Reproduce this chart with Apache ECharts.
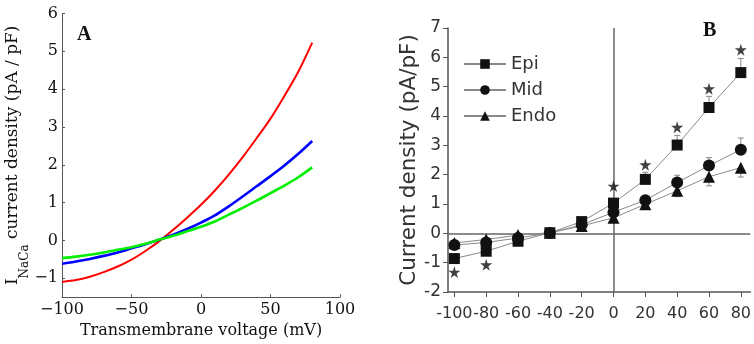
<!DOCTYPE html>
<html>
<head>
<meta charset="utf-8">
<script src="https://cdn.jsdelivr.net/npm/echarts@6/dist/echarts.min.js"></script>
<style>
html,body{margin:0;padding:0;background:#fff;}
#c{width:754px;height:344px;}
</style>
</head>
<body>
<div id="c"></div>
<script>
// ---------- Panel A data (model curves) ----------
const voltA = [-100,-90,-80,-70,-60,-50,-40,-30,-20,-10,0,10,20,30,40,50,60,70,80];
const redA   = [-1.10,-1.05,-0.96,-0.84,-0.69,-0.51,-0.28,-0.02,0.28,0.60,0.94,1.32,1.74,2.20,2.70,3.22,3.82,4.46,5.23];
const blueA  = [-0.62,-0.56,-0.49,-0.41,-0.32,-0.21,-0.10,0.02,0.15,0.30,0.47,0.66,0.90,1.16,1.43,1.70,1.98,2.29,2.63];
const greenA = [-0.47,-0.43,-0.38,-0.32,-0.25,-0.18,-0.09,0.02,0.12,0.24,0.36,0.50,0.68,0.86,1.05,1.25,1.45,1.67,1.93];
const xTicksA = [-100,-50,0,50,100];
const yTicksA = [-1,0,1,2,3,4,5,6];

// ---------- Panel B data (measurements) ----------
const voltB = [-100,-80,-60,-40,-20,0,20,40,60,80];
const epiB  = [-0.86,-0.61,-0.27,0.02,0.40,1.03,1.84,3.01,4.29,5.48];
const midB  = [-0.40,-0.31,-0.16,0.01,0.29,0.72,1.13,1.73,2.31,2.85];
const endoB = [-0.33,-0.21,-0.06,0.02,0.25,0.53,0.99,1.45,1.93,2.24];
const starX = [-100,-80,0,20,40,60,80];
const starY = [-1.32,-1.07,1.61,2.34,3.62,4.93,6.26];
const errX    = [20,40,60,80, 40,60,80, 20,40,60,80];
const errFrom = [1.84,3.01,4.29,5.48, 1.73,2.31,2.85, 0.99,1.45,1.93,2.24];
const errTo   = [2.08,3.34,4.67,5.96, 1.98,2.58,3.25, 0.82,1.25,1.62,1.92];
const xTicksB = [-100,-80,-60,-40,-20,0,20,40,60,80];
const yTicksB = [-2,-1,0,1,2,3,4,5,6,7];

const pairs = (xs, ys) => xs.map((x, i) => [x, ys[i]]);
const serif = '"DejaVu Serif", serif';
const sans = '"DejaVu Sans", sans-serif';
const starPath = 'path://M50,0 L61,35 L98,35 L68,57 L79,91 L50,70 L21,91 L32,57 L2,35 L39,35 Z';

const chart = echarts.init(document.getElementById('c'), null, {renderer: 'canvas'});
chart.setOption({
  animation: false,
  backgroundColor: '#ffffff',
  grid: [
    {left: 62, top: 13.5, width: 278, height: 285.5},
    {left: 448, top: 28, width: 306, height: 264}
  ],
  xAxis: [
    {
      gridIndex: 0, type: 'value', min: -100, max: 100,
      name: 'Transmembrane voltage (mV)', nameLocation: 'middle', nameGap: 20,
      nameTextStyle: {fontFamily: serif, fontSize: 16, color: '#111'},
      axisLine: {show: true, onZero: false, lineStyle: {color: '#555', width: 1}},
      axisTick: {show: true, inside: true, length: 3, customValues: xTicksA, lineStyle: {color: '#555'}},
      axisLabel: {customValues: xTicksA, fontFamily: serif, fontSize: 16, color: '#111', margin: 5,
        hideOverlap: false,
        formatter: v => (v < 0 ? '\u2212' + Math.abs(v) : String(v))},
      splitLine: {show: false}
    },
    {
      gridIndex: 1, type: 'value', min: -104, max: 86,
      axisLine: {show: true, onZero: false, lineStyle: {color: '#555', width: 1.5}},
      axisTick: {show: true, length: 5, customValues: xTicksB, lineStyle: {color: '#555'}},
      axisLabel: {customValues: xTicksB, fontFamily: sans, fontSize: 16, color: '#333', margin: 14,
        hideOverlap: false, showMinLabel: true, showMaxLabel: true,
        formatter: v => String(v)},
      splitLine: {show: false}
    }
  ],
  yAxis: [
    {
      gridIndex: 0, type: 'value', min: -1.5, max: 6,
      name: '{m|I}{s|NaCa}{m| current density (pA / pF)}',
      nameLocation: 'middle', nameGap: 26,
      nameTextStyle: {
        fontFamily: serif, fontSize: 17, color: '#111',
        rich: {
          m: {fontFamily: serif, fontSize: 17, lineHeight: 19, verticalAlign: 'top', color: '#111'},
          s: {fontFamily: serif, fontSize: 12, lineHeight: 12, padding: [14, 0, 0, 0], verticalAlign: 'top', color: '#111'}
        }
      },
      axisLine: {show: true, onZero: false, lineStyle: {color: '#555', width: 1}},
      axisTick: {show: true, inside: true, length: 3, customValues: yTicksA, lineStyle: {color: '#555'}},
      axisLabel: {customValues: yTicksA, fontFamily: serif, fontSize: 16, color: '#111', margin: 4,
        formatter: v => (v < 0 ? '\u2212' + Math.abs(v) : String(v))},
      splitLine: {show: false}
    },
    {
      gridIndex: 1, type: 'value', min: -2, max: 7, interval: 1,
      name: 'Current density (pA/pF)', nameLocation: 'middle', nameGap: 28,
      nameTextStyle: {fontFamily: sans, fontSize: 21.5, color: '#333'},
      axisLine: {show: true, onZero: false, lineStyle: {color: '#555', width: 1.5}},
      axisTick: {show: true, length: 5, customValues: yTicksB, lineStyle: {color: '#555'}},
      axisLabel: {customValues: yTicksB, fontFamily: sans, fontSize: 17, color: '#333', margin: 7},
      splitLine: {show: false}
    }
  ],
  legend: {
    data: ['Epi', 'Mid', 'Endo'],
    orient: 'vertical', left: 463, top: 55, padding: 0,
    itemWidth: 42, itemHeight: 12, itemGap: 8,
    textStyle: {fontFamily: sans, fontSize: 18, color: '#333'},
    selectedMode: false
  },
  graphic: [
    {type: 'text', left: 77, top: 25, style: {text: 'A', font: 'bold 20px "Liberation Serif", serif', fill: '#111'}},
    {type: 'text', left: 703, top: 21, style: {text: 'B', font: 'bold 20px "Liberation Serif", serif', fill: '#111'}}
  ],
  series: [
    {type: 'line', xAxisIndex: 0, yAxisIndex: 0, data: pairs(voltA, redA), smooth: 0.3, showSymbol: false,
      lineStyle: {color: '#ff0000', width: 2}, itemStyle: {color: '#ff0000'}, z: 2},
    {type: 'line', xAxisIndex: 0, yAxisIndex: 0, data: pairs(voltA, blueA), smooth: 0.3, showSymbol: false,
      lineStyle: {color: '#0000ff', width: 2.6}, itemStyle: {color: '#0000ff'}, z: 3},
    {type: 'line', xAxisIndex: 0, yAxisIndex: 0, data: pairs(voltA, greenA), smooth: 0.3, showSymbol: false,
      lineStyle: {color: '#00ee00', width: 2.6}, itemStyle: {color: '#00ee00'}, z: 4},
    {
      type: 'custom', xAxisIndex: 1, yAxisIndex: 1, silent: true, z: 1,
      data: errX.map((x, i) => [x, errFrom[i], errTo[i]]),
      renderItem: function (params, api) {
        const p0 = api.coord([api.value(0), api.value(1)]);
        const p1 = api.coord([api.value(0), api.value(2)]);
        const st = {stroke: '#888', lineWidth: 1};
        return {type: 'group', children: [
          {type: 'line', shape: {x1: p0[0], y1: p0[1], x2: p1[0], y2: p1[1]}, style: st},
          {type: 'line', shape: {x1: p1[0] - 3, y1: p1[1], x2: p1[0] + 3, y2: p1[1]}, style: st}
        ]};
      }
    },
    {name: 'Epi', type: 'line', xAxisIndex: 1, yAxisIndex: 1, data: pairs(voltB, epiB),
      symbol: 'rect', symbolSize: 11, showAllSymbol: true,
      lineStyle: {color: '#8a8a8a', width: 1}, itemStyle: {color: '#111'}, z: 5,
      markLine: {silent: true, symbol: ['none', 'none'], label: {show: false},
        lineStyle: {color: '#666', width: 1.5, type: 'solid'},
        data: [{xAxis: 0}, {yAxis: 0}]}},
    {name: 'Mid', type: 'line', xAxisIndex: 1, yAxisIndex: 1, data: pairs(voltB, midB),
      symbol: 'circle', symbolSize: 12, showAllSymbol: true,
      lineStyle: {color: '#8a8a8a', width: 1}, itemStyle: {color: '#111'}, z: 5},
    {name: 'Endo', type: 'line', xAxisIndex: 1, yAxisIndex: 1, data: pairs(voltB, endoB),
      symbol: 'triangle', symbolSize: 12, showAllSymbol: true,
      lineStyle: {color: '#8a8a8a', width: 1}, itemStyle: {color: '#111'}, z: 5},
    {type: 'scatter', xAxisIndex: 1, yAxisIndex: 1, data: pairs(starX, starY),
      symbol: starPath, symbolSize: 12, itemStyle: {color: '#111'}, silent: true, z: 6}
  ]
});
</script>
</body>
</html>
